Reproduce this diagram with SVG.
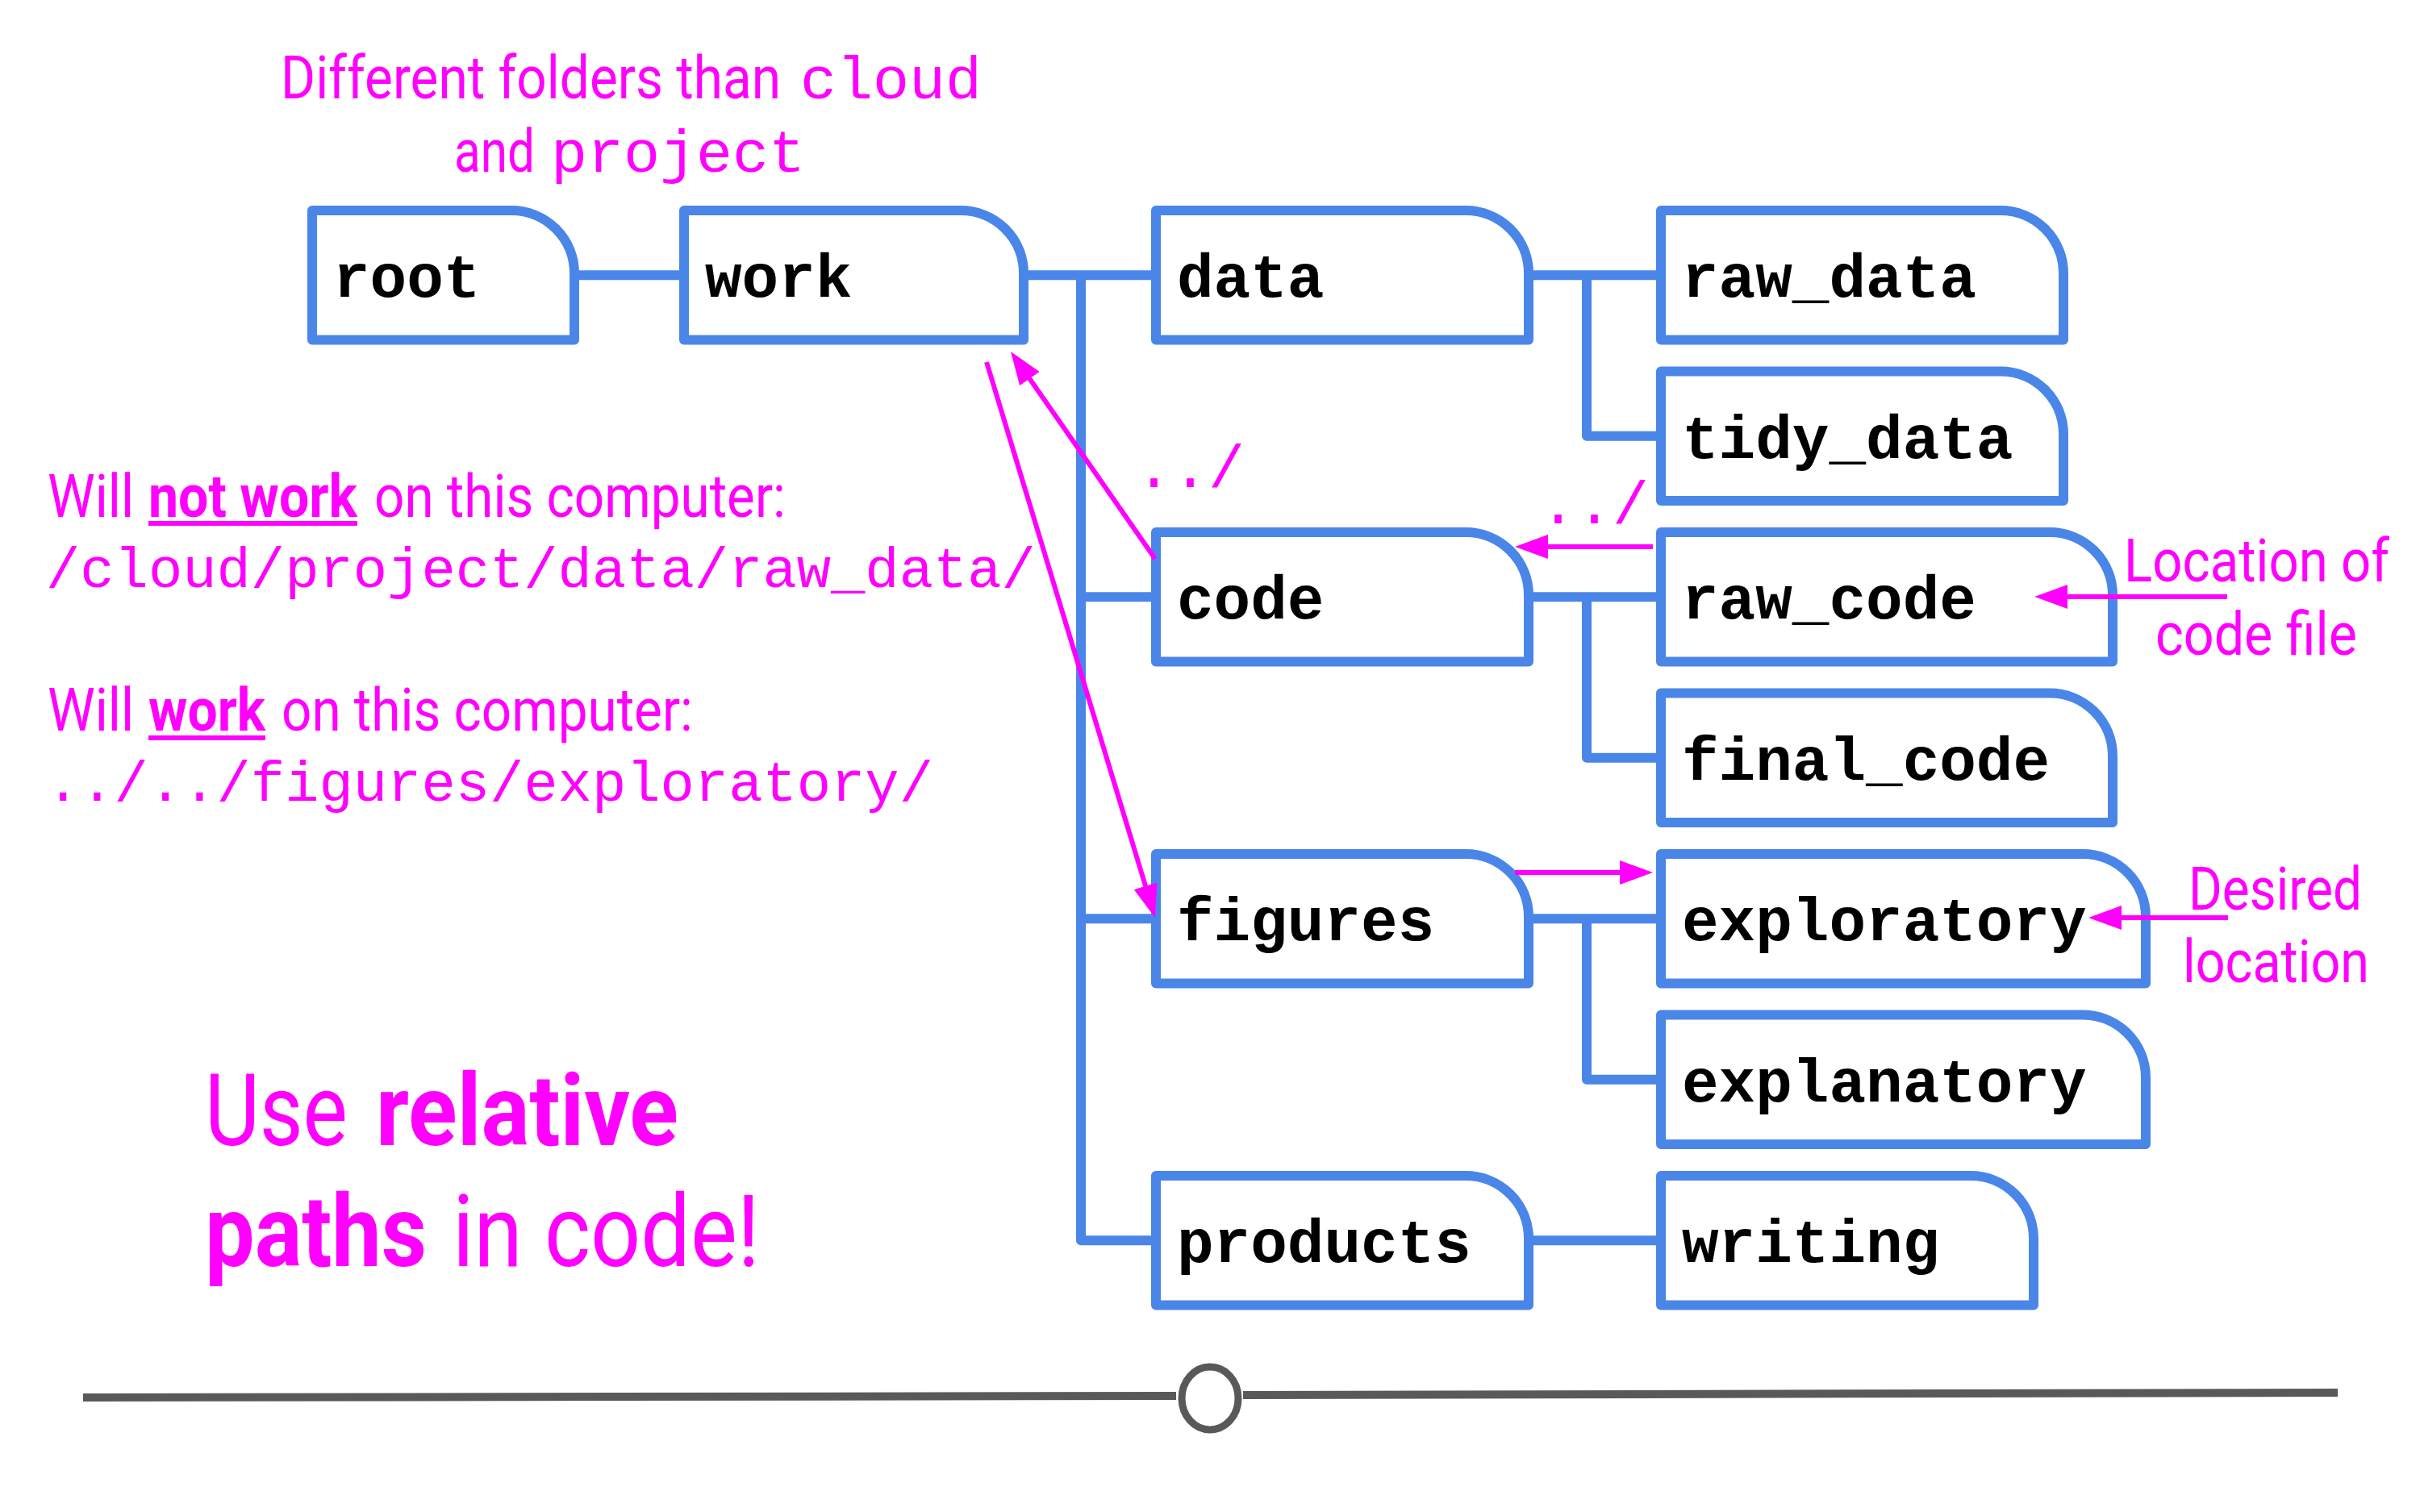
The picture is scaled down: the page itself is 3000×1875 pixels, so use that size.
<svg xmlns="http://www.w3.org/2000/svg" width="3000" height="1875" viewBox="0 0 3000 1875">
<style>
.box{fill:#ffffff;stroke:#4a86e8;stroke-width:12;stroke-linejoin:round}
.conn{fill:none;stroke:#4a86e8;stroke-width:12;stroke-linejoin:round}
.lbl{font-family:"Liberation Mono","Courier New",monospace;font-weight:bold;font-size:76px;fill:#000000}
.ann{font-family:Roboto,"Liberation Sans",sans-serif;font-size:75px;fill:#ff00ff}
.annb{font-family:Roboto,"Liberation Sans",sans-serif;font-weight:bold;font-size:75px;fill:#ff00ff}
.mono{font-family:"Liberation Mono","Courier New",monospace;fill:#ff00ff}
.big{font-family:Roboto,"Liberation Sans",sans-serif;font-size:125px;fill:#ff00ff}
.bigb{font-family:Roboto,"Liberation Sans",sans-serif;font-weight:bold;font-size:125px;fill:#ff00ff}
.arr{fill:none;stroke:#ff00ff;stroke-width:6;marker-end:url(#ah)}
.tl{fill:none;stroke:#595959;stroke-width:10}
</style>
<defs>
<marker id="ah" viewBox="0 0 41 30" refX="6" refY="15" markerWidth="41" markerHeight="30" markerUnits="userSpaceOnUse" orient="auto">
<path d="M0,0 L41,15 L0,30 Z" fill="#ff00ff"/>
</marker>
</defs>
<rect x="0" y="0" width="3000" height="1875" fill="#ffffff"/>

<g id="connectors">
<path class="conn" d="M712,341.25 H848"/>
<path class="conn" d="M1269,341.25 H1433"/>
<path class="conn" d="M1340,341.25 V1538.25 H1433"/>
<path class="conn" d="M1340,740.25 H1433"/>
<path class="conn" d="M1340,1139.25 H1433"/>
<path class="conn" d="M1895,341.25 H2059"/>
<path class="conn" d="M1967,341.25 V540.75 H2059"/>
<path class="conn" d="M1895,740.25 H2059"/>
<path class="conn" d="M1967,740.25 V939.75 H2059"/>
<path class="conn" d="M1895,1139.25 H2059"/>
<path class="conn" d="M1967,1139.25 V1338.75 H2059"/>
<path class="conn" d="M1895,1538.25 H2059"/>
</g>

<g id="node-root"><path class="box" d="M387,261 H634 A78,78 0 0 1 712,339 V421.5 H387 Z"/><text class="lbl" x="413" y="368">root</text></g>
<g id="node-work"><path class="box" d="M848,261 H1191 A78,78 0 0 1 1269,339 V421.5 H848 Z"/><text class="lbl" x="874" y="368">work</text></g>
<g id="node-data"><path class="box" d="M1433,261 H1817 A78,78 0 0 1 1895,339 V421.5 H1433 Z"/><text class="lbl" x="1459" y="368">data</text></g>
<g id="node-code"><path class="box" d="M1433,660 H1817 A78,78 0 0 1 1895,738 V820.5 H1433 Z"/><text class="lbl" x="1459" y="767">code</text></g>
<g id="node-figures"><path class="box" d="M1433,1059 H1817 A78,78 0 0 1 1895,1137 V1219.5 H1433 Z"/><text class="lbl" x="1459" y="1166">figures</text></g>
<g id="node-products"><path class="box" d="M1433,1458 H1817 A78,78 0 0 1 1895,1536 V1618.5 H1433 Z"/><text class="lbl" x="1459" y="1565">products</text></g>
<g id="node-raw_data"><path class="box" d="M2059,261 H2480 A78,78 0 0 1 2558,339 V421.5 H2059 Z"/><text class="lbl" x="2085" y="368">raw_data</text></g>
<g id="node-tidy_data"><path class="box" d="M2059,460.5 H2480 A78,78 0 0 1 2558,538.5 V621 H2059 Z"/><text class="lbl" x="2085" y="568">tidy_data</text></g>
<g id="node-raw_code"><path class="box" d="M2059,660 H2541 A78,78 0 0 1 2619,738 V820.5 H2059 Z"/><text class="lbl" x="2085" y="767">raw_code</text></g>
<g id="node-final_code"><path class="box" d="M2059,859.5 H2541 A78,78 0 0 1 2619,937.5 V1020 H2059 Z"/><text class="lbl" x="2085" y="967">final_code</text></g>
<g id="node-exploratory"><path class="box" d="M2059,1059 H2582 A78,78 0 0 1 2660,1137 V1219.5 H2059 Z"/><text class="lbl" x="2085" y="1166">exploratory</text></g>
<g id="node-explanatory"><path class="box" d="M2059,1258.5 H2582 A78,78 0 0 1 2660,1336.5 V1419 H2059 Z"/><text class="lbl" x="2085" y="1366">explanatory</text></g>
<g id="node-writing"><path class="box" d="M2059,1458 H2443 A78,78 0 0 1 2521,1536 V1618.5 H2059 Z"/><text class="lbl" x="2085" y="1565">writing</text></g>

<g id="annotations">
<text class="ann" x="348" y="122" textLength="620" lengthAdjust="spacingAndGlyphs">Different folders than</text>
<text class="mono" x="992" y="122" font-size="75">cloud</text>
<text class="ann" x="563" y="213" textLength="100" lengthAdjust="spacingAndGlyphs">and</text>
<text class="mono" x="683" y="213" font-size="75">project</text>

<text class="ann" x="59" y="641" textLength="107" lengthAdjust="spacingAndGlyphs">Will</text>
<text class="annb" x="184" y="641" textLength="259" lengthAdjust="spacingAndGlyphs">not work</text>
<rect x="184" y="646" width="259" height="6" fill="#ff00ff"/>
<text class="ann" x="464" y="641" textLength="510" lengthAdjust="spacingAndGlyphs">on this computer:</text>
<text class="mono" x="57" y="728" font-size="70.5">/cloud/project/data/raw_data/</text>

<text class="ann" x="59" y="906" textLength="107" lengthAdjust="spacingAndGlyphs">Will</text>
<text class="annb" x="184" y="906" textLength="145" lengthAdjust="spacingAndGlyphs">work</text>
<rect x="184" y="912" width="145" height="6" fill="#ff00ff"/>
<text class="ann" x="349" y="906" textLength="510" lengthAdjust="spacingAndGlyphs">on this computer:</text>
<text class="mono" x="57" y="993" font-size="70.5">../../figures/exploratory/</text>

<text class="big" x="254" y="1420" textLength="177" lengthAdjust="spacingAndGlyphs">Use</text>
<text class="bigb" x="466" y="1420" textLength="375" lengthAdjust="spacingAndGlyphs">relative</text>
<text class="bigb" x="254" y="1570" textLength="275" lengthAdjust="spacingAndGlyphs">paths</text>
<text class="big" x="561" y="1570" textLength="381" lengthAdjust="spacingAndGlyphs">in code!</text>

<text class="mono" x="1408" y="604" font-size="75">../</text>
<text class="mono" x="1909" y="649" font-size="75">../</text>

<text class="ann" x="2633" y="721" textLength="329" lengthAdjust="spacingAndGlyphs">Location of</text>
<text class="ann" x="2672" y="812" textLength="250" lengthAdjust="spacingAndGlyphs">code file</text>
<text class="ann" x="2713" y="1128" textLength="215" lengthAdjust="spacingAndGlyphs">Desired</text>
<text class="ann" x="2706" y="1218" textLength="231" lengthAdjust="spacingAndGlyphs">location</text>
</g>

<g id="arrows">
<path class="arr" d="M1432,693 L1273,464.7"/>
<path class="arr" d="M1223,449 L1421.8,1104.5"/>
<path class="arr" d="M2049,678 L1913,678"/>
<path class="arr" d="M1878,1082 L2014,1082"/>
<path class="arr" d="M2761,740 L2557,740"/>
<path class="arr" d="M2762,1138 L2624,1138"/>
</g>

<g id="timeline">
<path class="tl" d="M103,1733 L1458,1731"/>
<path class="tl" d="M1541,1730 L2898,1727"/>
<ellipse cx="1500" cy="1734" rx="35" ry="39" fill="#ffffff" stroke="#595959" stroke-width="9"/>
</g>
</svg>
